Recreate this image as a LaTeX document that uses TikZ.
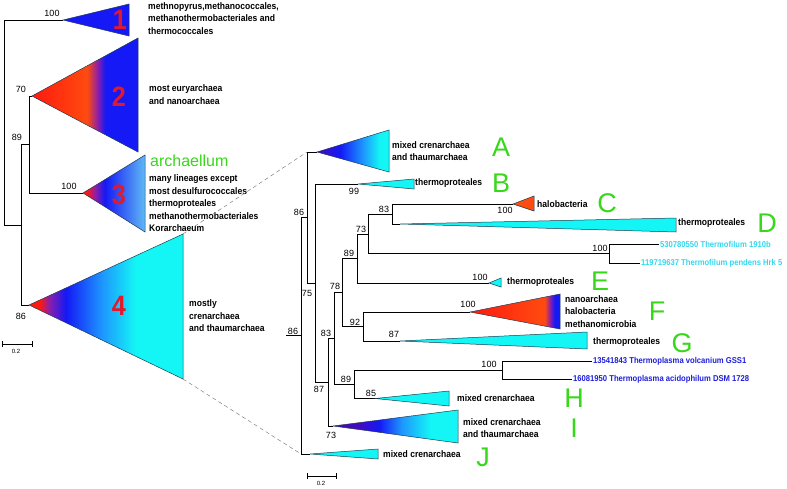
\documentclass[tikz,border=0pt]{standalone}
\usepackage{fontspec}
\setmainfont{Liberation Sans}
\newfontfamily\narrowfont[FakeStretch=0.9]{Liberation Sans}

\definecolor{clred}{RGB}{255,25,15}
\definecolor{clorange}{RGB}{255,75,15}
\definecolor{clpurple}{RGB}{140,30,170}
\definecolor{clblue}{RGB}{20,25,245}
\definecolor{clmid}{RGB}{30,150,255}
\definecolor{clcyan}{RGB}{20,245,245}
\definecolor{clindigo}{RGB}{70,10,190}
\definecolor{cllight}{RGB}{95,185,245}
\definecolor{cledge}{RGB}{30,60,80}
\definecolor{numred}{RGB}{225,25,45}
\definecolor{letgreen}{RGB}{55,215,25}
\definecolor{seqcyan}{RGB}{50,215,240}
\definecolor{seqblue}{RGB}{30,30,220}

\pgfdeclarehorizontalshading{shadetwo}{100bp}{color(0bp)=(clred); color(25bp)=(clred); color(51bp)=(clorange); color(56bp)=(clpurple); color(59.5bp)=(clblue); color(100bp)=(clblue)}
\pgfdeclarehorizontalshading{shadethree}{100bp}{color(0bp)=(clred); color(25bp)=(clred); color(28bp)=(clred); color(35bp)=(clpurple); color(42.5bp)=(clblue); color(75bp)=(cllight); color(100bp)=(cllight)}
\pgfdeclarehorizontalshading{shadefour}{100bp}{color(0bp)=(clred); color(25bp)=(clred); color(28.5bp)=(clred); color(31.5bp)=(clpurple); color(37bp)=(clblue); color(48.7bp)=(clmid); color(59.5bp)=(clcyan); color(100bp)=(clcyan)}
\pgfdeclarehorizontalshading{shadeA}{100bp}{color(0bp)=(clindigo); color(25bp)=(clindigo); color(41bp)=(clblue); color(57bp)=(clmid); color(68.5bp)=(clcyan); color(100bp)=(clcyan)}
\pgfdeclarehorizontalshading{shadeI}{100bp}{color(0bp)=(clindigo); color(25bp)=(clindigo); color(35bp)=(clindigo); color(43.5bp)=(clblue); color(52.5bp)=(clmid); color(64bp)=(clcyan); color(100bp)=(clcyan)}
\pgfdeclarehorizontalshading{shadeF}{100bp}{color(0bp)=(clred); color(25bp)=(clred); color(66.5bp)=(clorange); color(69.5bp)=(clpurple); color(72bp)=(clblue); color(100bp)=(clblue)}

\tikzset{
  branch/.style={line width=0.8pt},
  clade/.style={line width=0.5pt, draw=cledge},
  grouptext/.style={font=\narrowfont\bfseries\fontsize{9.5}{12.5}\selectfont, anchor=west, align=left, inner sep=0pt},
  boot/.style={font=\fontsize{9}{9}\selectfont, inner sep=0pt},
  bignum/.style={font=\narrowfont\bfseries\fontsize{28}{28}\selectfont, text=numred, inner sep=0pt},
  grpletter/.style={font=\fontsize{27}{27}\selectfont, text=letgreen, inner sep=0pt},
  seqname/.style={font=\narrowfont\bfseries\fontsize{8.5}{10}\selectfont, anchor=west, inner sep=1pt},
  zoomline/.style={dash pattern=on 4pt off 3pt, line width=0.5pt, draw=gray},
  barlabel/.style={font=\fontsize{6}{6}\selectfont, inner sep=0pt},
}

\begin{document}
\begin{tikzpicture}[x=1pt,y=-1pt]
\useasboundingbox (0,0) rectangle (787,488);

% left tree
\coordinate (l0) at (4,122.5);
\coordinate (l1) at (21,225);
\coordinate (l2) at (29,144.5);
\coordinate (t1) at (63,20);
\coordinate (t2) at (32,96);
\coordinate (t3) at (83,193);
\coordinate (t4) at (29,305);
\coordinate (z1) at (183,234);
\coordinate (z2) at (183,379);

\draw[branch] (l0) |- (t1);
\draw[branch] (l0) |- (l1);
\draw[branch] (l1) |- (l2);
\draw[branch] (l1) |- (t4);
\draw[branch] (l2) |- (t2);
\draw[branch] (l2) |- (t3);

\filldraw[clade, fill=clblue] (t1) -- (129,4) -- (129,36) -- cycle;
\shadedraw[clade, shading=shadetwo] (t2) -- (138,38) -- (138,152) -- cycle;
\shadedraw[clade, shading=shadethree] (t3) -- (145,155) -- (145,232) -- cycle;
\shadedraw[clade, shading=shadefour] (t4) -- (z1) -- (z2) -- cycle;

\node[bignum] (num1) at (120,20) {1};
\node[bignum] (num2) at (119,97) {2};
\node[bignum] (num3) at (119,195) {3};
\node[bignum] (num4) at (119,306) {4};

\node[boot] (b1) at (52,13) {100};
\node[boot] (b2) at (21,89) {70};
\node[boot] (b3) at (17,137) {89};
\node[boot] (b4) at (69,186) {100};
\node[boot] (b5) at (21,316) {86};

\node[grouptext] (txt1) at (148,18.5) {methnopyrus,methanococcales,\\methanothermobacteriales and\\thermococcales};
\node[grouptext] (txt2) at (149,94.5) {most euryarchaea\\and nanoarchaea};
\node[font=\fontsize{16}{16}\selectfont, text=letgreen, anchor=base west, inner sep=0pt] (arch) at (150,166) {archaellum};
\node[grouptext] (txt3) at (149,203.5) {many lineages except\\most desulfurococcales\\thermoproteales\\methanothermobacteriales\\Korarchaeum};
\node[grouptext] (txt4) at (189,316) {mostly\\crenarchaea\\and thaumarchaea};

% scale bar left
\coordinate (sb1) at (2,344);
\coordinate (sb2) at (32,344);
\draw[line width=0.6pt] (sb1) -- (sb2);
\draw[line width=0.6pt] ([yshift=-3pt]sb1) -- ([yshift=3pt]sb1);
\draw[line width=0.6pt] ([yshift=-3pt]sb2) -- ([yshift=3pt]sb2);
\node[barlabel] (sbl) at (16,351) {0.2};

% right tree
\coordinate (r0) at (301,335.5);
\coordinate (nA) at (307,217);
\coordinate (nB) at (315,283);
\coordinate (nC) at (328,382);
\coordinate (nD) at (334,338.5);
\coordinate (nE) at (342,292);
\coordinate (nF) at (357,258.5);
\coordinate (nG) at (368,234);
\coordinate (nH) at (392,214);
\coordinate (nT) at (609,253.5);
\coordinate (nJ) at (363,326.5);
\coordinate (nK) at (354,384.5);
\coordinate (nP) at (502,370);
\coordinate (aA) at (317,152);
\coordinate (aB) at (358,184);
\coordinate (aC) at (513,204);
\coordinate (aD) at (400,224);
\coordinate (aE) at (489,283);
\coordinate (aF) at (470,312);
\coordinate (aG) at (400,341);
\coordinate (aH) at (375,398.5);
\coordinate (aI) at (333,426);
\coordinate (aJ) at (310,454);
\coordinate (stub) at (286,335.5);
\coordinate (ztop) at (307,152);
\coordinate (zbot) at (301,454);

\node[seqname, text=seqcyan] (s1) at (659,244) {530780550 Thermofilum 1910b};
\node[seqname, text=seqcyan] (s2) at (640,263) {119719637 Thermofilum pendens Hrk 5};
\node[seqname, text=seqblue] (s3) at (592,361) {13541843 Thermoplasma volcanium GSS1};
\node[seqname, text=seqblue] (s4) at (572,379) {16081950 Thermoplasma acidophilum DSM 1728};

\draw[branch] (stub) -- (r0);
\draw[branch] (r0) |- (nA);
\draw[branch] (r0) |- (aJ);
\draw[branch] (nA) |- (aA);
\draw[branch] (nA) |- (nB);
\draw[branch] (nB) |- (aB);
\draw[branch] (nB) |- (nC);
\draw[branch] (nC) |- (nD);
\draw[branch] (nC) |- (aI);
\draw[branch] (nD) |- (nE);
\draw[branch] (nD) |- (nK);
\draw[branch] (nE) |- (nF);
\draw[branch] (nE) |- (nJ);
\draw[branch] (nF) |- (nG);
\draw[branch] (nF) |- (aE);
\draw[branch] (nG) |- (nH);
\draw[branch] (nG) |- (nT);
\draw[branch] (nH) |- (aC);
\draw[branch] (nH) |- (aD);
\draw[branch] (nT) |- (s1);
\draw[branch] (nT) |- (s2);
\draw[branch] (nJ) |- (aF);
\draw[branch] (nJ) |- (aG);
\draw[branch] (nK) |- (nP);
\draw[branch] (nK) |- (aH);
\draw[branch] (nP) |- (s3);
\draw[branch] (nP) |- (s4);

\shadedraw[clade, shading=shadeA] (aA) -- (389,130) -- (389,172) -- cycle;
\filldraw[clade, fill=clcyan] (aB) -- (414,179) -- (414,189) -- cycle;
\filldraw[clade, fill=clorange] (aC) -- (534,196) -- (534,211) -- cycle;
\filldraw[clade, fill=clcyan] (aD) -- (676,218) -- (676,232) -- cycle;
\filldraw[clade, fill=clcyan] (aE) -- (501,278) -- (501,287) -- cycle;
\shadedraw[clade, shading=shadeF] (aF) -- (560,294) -- (560,329) -- cycle;
\filldraw[clade, fill=clcyan] (aG) -- (587,332) -- (587,349) -- cycle;
\filldraw[clade, fill=clcyan] (aH) -- (449,391) -- (449,406) -- cycle;
\shadedraw[clade, shading=shadeI] (aI) -- (458,410) -- (458,443) -- cycle;
\filldraw[clade, fill=clcyan] (aJ) -- (378,449) -- (378,459) -- cycle;

\node[boot] (c1) at (293,331) {86};
\node[boot] (c2) at (299,212) {86};
\node[boot] (c3) at (307,293) {75};
\node[boot] (c4) at (354,191) {99};
\node[boot] (c5) at (384,209) {83};
\node[boot] (c6) at (505,210) {100};
\node[boot] (c7) at (361,229) {73};
\node[boot] (c8) at (349,253) {89};
\node[boot] (c9) at (600,248) {100};
\node[boot] (c10) at (480,277) {100};
\node[boot] (c11) at (335,286) {78};
\node[boot] (c12) at (468,304) {100};
\node[boot] (c13) at (355,322) {92};
\node[boot] (c14) at (394,334) {87};
\node[boot] (c15) at (326,333) {83};
\node[boot] (c16) at (489,364) {100};
\node[boot] (c17) at (346,379) {89};
\node[boot] (c18) at (319,389) {87};
\node[boot] (c19) at (371,393) {85};
\node[boot] (c20) at (331,435) {73};

\node[grouptext] (gA) at (392,151) {mixed crenarchaea\\and thaumarchaea};
\node[grouptext] (gB) at (415,183) {thermoproteales};
\node[grouptext] (gC) at (537,204) {halobacteria};
\node[grouptext] (gD) at (678,223) {thermoproteales};
\node[grouptext] (gE) at (507,282) {thermoproteales};
\node[grouptext] (gF) at (565,311.5) {nanoarchaea\\halobacteria\\methanomicrobia};
\node[grouptext] (gG) at (593,342) {thermoproteales};
\node[grouptext] (gH) at (457,398) {mixed crenarchaea};
\node[grouptext] (gI) at (463,428) {mixed crenarchaea\\and thaumarchaea};
\node[grouptext] (gJ) at (383,454) {mixed crenarchaea};

\node[grpletter] (labA) at (501,147) {A};
\node[grpletter] (labB) at (501,183) {B};
\node[grpletter] (labC) at (607,203) {C};
\node[grpletter] (labD) at (767,223) {D};
\node[grpletter] (labE) at (600,281) {E};
\node[grpletter] (labF) at (657,311) {F};
\node[grpletter] (labG) at (682,343) {G};
\node[grpletter] (labH) at (574,398) {H};
\node[grpletter] (labI) at (574,428) {I};
\node[grpletter] (labJ) at (483,457) {J};

% scale bar right
\coordinate (sb3) at (307,476);
\coordinate (sb4) at (336,476);
\draw[line width=0.6pt] (sb3) -- (sb4);
\draw[line width=0.6pt] ([yshift=-3pt]sb3) -- ([yshift=3pt]sb3);
\draw[line width=0.6pt] ([yshift=-3pt]sb4) -- ([yshift=3pt]sb4);
\node[barlabel] (sbr) at (321,483) {0.2};

% zoom lines
\draw[zoomline] (z1) -- (ztop);
\draw[zoomline] (z2) -- (zbot);

\end{tikzpicture}
\end{document}
